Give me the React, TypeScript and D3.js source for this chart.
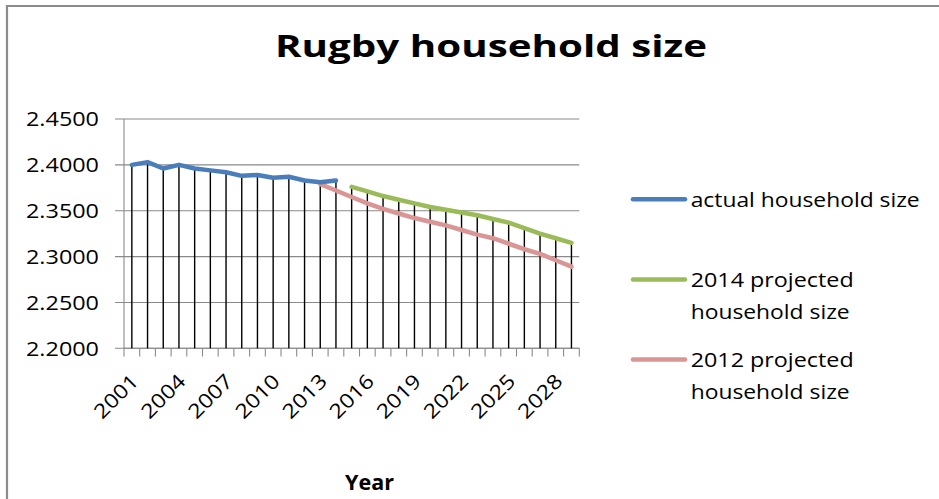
import React from "react";
import * as d3 from "d3";

const years = [
  "2001", "2002", "2003", "2004", "2005", "2006", "2007", "2008", "2009", "2010",
  "2011", "2012", "2013", "2014", "2015", "2016", "2017", "2018", "2019", "2020",
  "2021", "2022", "2023", "2024", "2025", "2026", "2027", "2028", "2029",
];
const actual: (number | null)[] = [
  2.400, 2.403, 2.396, 2.400, 2.396, 2.394, 2.392, 2.388, 2.389, 2.386,
  2.387, 2.383, 2.381, 2.383, null, null, null, null, null, null,
  null, null, null, null, null, null, null, null, null,
];
const proj2014: (number | null)[] = [
  null, null, null, null, null, null, null, null, null, null,
  null, null, null, null, 2.376, 2.371, 2.366, 2.362, 2.358, 2.354,
  2.351, 2.348, 2.345, 2.341, 2.337, 2.331, 2.325, 2.320, 2.315,
];
const proj2012: (number | null)[] = [
  null, null, null, null, null, null, null, null, null, null,
  null, null, 2.379, 2.372, 2.365, 2.358, 2.352, 2.347, 2.342, 2.338,
  2.334, 2.329, 2.324, 2.320, 2.314, 2.308, 2.303, 2.296, 2.289,
];
const yTicks = [2.2, 2.25, 2.3, 2.35, 2.4, 2.45];
const xLabels = ["2001", "2004", "2007", "2010", "2013", "2016", "2019", "2022", "2025", "2028"];
const seriesNames = ["actual household size", "2014 projected household size", "2012 projected household size"];

const FONT = "'Open Sans', 'Noto Sans', sans-serif";
const COLORS = ["#4a7ebb", "#9bbb59", "#d99694"];

export default function App() {
  const W = 939, H = 499;
  const x = d3.scaleBand<string>().domain(years).range([124, 579.3]).padding(0);
  const y = d3.scaleLinear().domain([2.2, 2.45]).range([348.3, 119]);
  const cx = (d: string) => (x(d) as number) + x.bandwidth() / 2;

  const series = [actual, proj2014, proj2012];
  const line = d3
    .line<number | null>()
    .defined((d) => d !== null)
    .x((_, i) => cx(years[i]))
    .y((d) => y(d as number));

  const tops = years.map((_, i) => {
    const vals = series.map((s) => s[i]).filter((v) => v !== null) as number[];
    return vals.length ? d3.max(vals)! : null;
  });

  const boundaries = [...years.map((d) => x(d) as number), 579.3];

  const legendRows = [
    { lines: ["actual household size"], y: 199.3, widths: [229] },
    { lines: ["2014 projected", "household size"], y: 279.5, widths: [163, 159] },
    { lines: ["2012 projected", "household size"], y: 359.5, widths: [163, 159] },
  ];

  return (
    <div style={{ position: "absolute", left: 0, top: 0 }}>
      <svg width={W} height={H} style={{ display: "block", background: "#fff" }}>
        {/* chart border */}
        <path d={`M7,${H + 5} V6 H${W + 5}`} fill="none" stroke="#8c8c8c" strokeWidth={2.2} />

        {/* title */}
        <text x={491} y={56.7} textAnchor="middle" fontFamily={FONT} fontWeight={700}
          fontSize={30} textLength={432} lengthAdjust="spacingAndGlyphs" fill="#000">
          Rugby household size
        </text>

        {/* gridlines & y ticks */}
        {yTicks.map((t) => (
          <g key={t}>
            <line x1={115} x2={579.3} y1={y(t)} y2={y(t)} stroke="#8a8a8a" strokeWidth={1.1} />
            <text x={99} y={y(t)} dy="0.36em" textAnchor="end" fontFamily={FONT} fontSize={20}
              textLength={73} lengthAdjust="spacingAndGlyphs" fill="#000">
              {t.toFixed(4)}
            </text>
          </g>
        ))}

        {/* y axis */}
        <line x1={124} x2={124} y1={119} y2={348.3} stroke="#8a8a8a" strokeWidth={1.1} />
        {/* x axis */}
        <line x1={124} x2={579.3} y1={348.3} y2={348.3} stroke="#8a8a8a" strokeWidth={1.1} />
        {boundaries.map((b, i) => (
          <line key={i} x1={b} x2={b} y1={348.3} y2={356.5} stroke="#8a8a8a" strokeWidth={1.1} />
        ))}

        {/* drop lines */}
        {years.map((d, i) =>
          tops[i] !== null ? (
            <line key={d} x1={cx(d)} x2={cx(d)} y1={y(tops[i] as number)} y2={348.3}
              stroke="#000" strokeWidth={1.4} />
          ) : null
        )}

        {/* series */}
        {[proj2012, proj2014, actual].map((s, k) => (
          <path key={k} d={line(s) || ""} fill="none" stroke={COLORS[2 - k]} strokeWidth={4.5}
            strokeLinejoin="round" strokeLinecap="round" />
        ))}

        {/* x labels */}
        {xLabels.map((l) => {
          const ax = cx(l) + 8;
          const ay = 382.5;
          return (
            <text key={l} x={ax} y={ay} transform={`rotate(-45 ${ax} ${ay})`} textAnchor="end"
              fontFamily={FONT} fontSize={20} textLength={53} lengthAdjust="spacingAndGlyphs" fill="#000">
              {l}
            </text>
          );
        })}

        {/* x title */}
        <text x={369.5} y={490} textAnchor="middle" fontFamily={FONT} fontWeight={700} fontSize={21}
          textLength={49} lengthAdjust="spacingAndGlyphs" fill="#000">
          Year
        </text>

        {/* legend */}
        {legendRows.map((r, k) => (
          <g key={k}>
            <line x1={633} x2={685} y1={r.y} y2={r.y} stroke={COLORS[k]} strokeWidth={4.5} strokeLinecap="round" />
            {r.lines.map((t, j) => (
              <text key={j} x={690.7} y={r.y + j * 32} dy="0.36em" fontFamily={FONT} fontSize={20}
                textLength={r.widths[j]} lengthAdjust="spacingAndGlyphs" fill="#000">
                {t}
              </text>
            ))}
          </g>
        ))}
        <title>{seriesNames.join(", ")}</title>
      </svg>
    </div>
  );
}
